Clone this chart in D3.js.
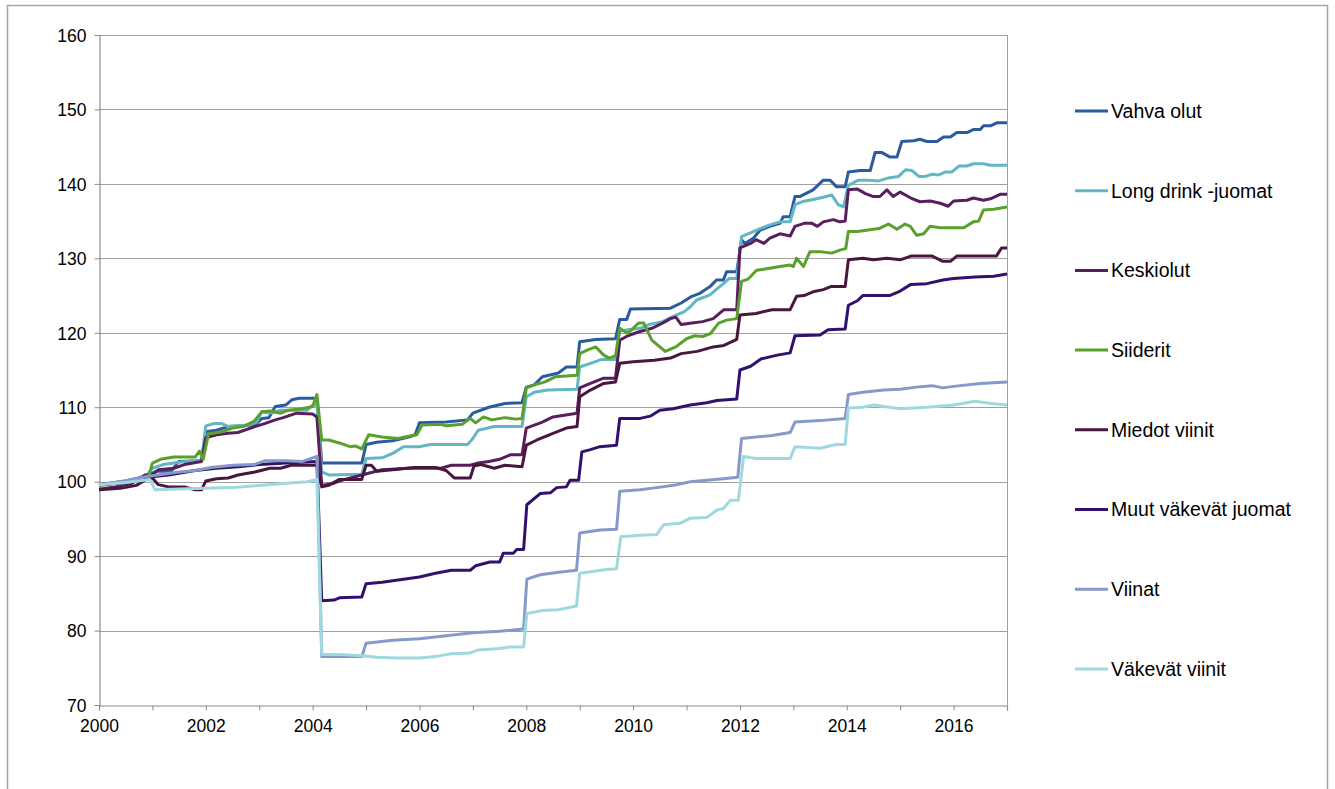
<!DOCTYPE html>
<html>
<head>
<meta charset="utf-8">
<script src="https://cdn.jsdelivr.net/npm/d3@7"></script>
<style>
  body { margin: 0; background: #fff; }
  svg { display: block; font-family: "Liberation Sans", Arial, sans-serif; }
</style>
</head>
<body>
<div id="chart"></div>
<script>
// Series names (legend order) and colours
var seriesNames = ['Vahva olut', 'Long drink -juomat', 'Keskiolut', 'Siiderit',
  'Miedot viinit', 'Muut väkevät juomat', 'Viinat', 'Väkevät viinit'];
var seriesColors = ['#2a5b9f', '#63b6c3', '#5a1d5e', '#5aa02c',
  '#48163f', '#32106e', '#8799c9', '#a0d8e0'];

// Axis ticks
var yTicks = [70, 80, 90, 100, 110, 120, 130, 140, 150, 160];
var xTickLabels = [2000, 2002, 2004, 2006, 2008, 2010, 2012, 2014, 2016];

// Price index points [year, index]
var vahvaOlut = [[2000, 99.6], [2000.5, 100.1], [2000.86, 100.7], [2001.08, 101.4], [2001.35, 101.4], [2001.49, 102.7],
  [2001.92, 102.8], [2002.0, 106.7], [2002.2, 106.9], [2002.42, 107.4], [2002.92, 107.6], [2003.05, 108.5],
  [2003.18, 108.6], [2003.3, 110.1], [2003.5, 110.3], [2003.61, 111.0], [2003.75, 111.2], [2004.08, 111.2],
  [2004.17, 102.5], [2004.92, 102.5], [2005.0, 105.0], [2005.2, 105.3], [2005.5, 105.5], [2005.8, 106.0],
  [2005.92, 106.3], [2006.0, 107.9], [2006.5, 108.0], [2006.9, 108.3], [2007.0, 109.2], [2007.3, 110.0],
  [2007.6, 110.5], [2007.92, 110.6], [2008.0, 112.7], [2008.15, 113.0], [2008.3, 114.1], [2008.6, 114.6],
  [2008.75, 115.4], [2008.95, 115.4], [2009.0, 118.8], [2009.3, 119.1], [2009.67, 119.2], [2009.75, 121.8],
  [2009.88, 121.8], [2009.95, 123.2], [2010.7, 123.3], [2010.9, 124.0], [2011.1, 124.9], [2011.25, 125.3],
  [2011.44, 126.2], [2011.56, 127.1], [2011.69, 127.1], [2011.75, 128.2], [2011.94, 128.2], [2012.03, 132.5],
  [2012.09, 132.0], [2012.25, 132.7], [2012.38, 133.8], [2012.56, 134.3], [2012.75, 134.7], [2012.81, 135.6],
  [2012.94, 135.6], [2013.03, 138.3], [2013.12, 138.3], [2013.37, 139.2], [2013.56, 140.5], [2013.69, 140.5],
  [2013.81, 139.6], [2013.97, 139.6], [2014.03, 141.6], [2014.25, 141.8], [2014.44, 141.8], [2014.53, 144.2],
  [2014.66, 144.2], [2014.81, 143.6], [2014.94, 143.6], [2015.03, 145.7], [2015.25, 145.8], [2015.37, 146.0],
  [2015.5, 145.7], [2015.69, 145.7], [2015.81, 146.3], [2015.94, 146.3], [2016.06, 146.9], [2016.25, 146.9],
  [2016.37, 147.3], [2016.5, 147.3], [2016.56, 147.8], [2016.69, 147.8], [2016.81, 148.2], [2017.0, 148.2]];

var longDrink = [[2000, 99.5], [2000.5, 100.0], [2000.86, 100.6], [2001.0, 101.8], [2001.2, 102.3], [2001.5, 102.6],
  [2001.92, 102.9], [2002.0, 107.5], [2002.15, 107.8], [2002.3, 107.8], [2002.42, 107.4], [2002.8, 107.6],
  [2002.95, 108.0], [2003.05, 109.4], [2003.2, 109.2], [2003.4, 109.6], [2003.9, 109.6], [2004.0, 110.3],
  [2004.08, 110.3], [2004.17, 101.3], [2004.3, 100.9], [2004.92, 101.0], [2005.0, 103.1], [2005.3, 103.2],
  [2005.5, 103.8], [2005.7, 104.7], [2006.0, 104.7], [2006.2, 105.0], [2006.9, 105.0], [2007.0, 105.8],
  [2007.1, 106.9], [2007.4, 107.4], [2007.92, 107.4], [2008.0, 111.4], [2008.15, 112.0], [2008.4, 112.3],
  [2008.95, 112.4], [2009.0, 115.4], [2009.2, 115.9], [2009.4, 116.4], [2009.67, 116.4], [2009.75, 120.2],
  [2009.9, 120.4], [2010.13, 120.6], [2010.3, 121.1], [2010.55, 121.5], [2010.75, 122.2], [2010.95, 122.8],
  [2011.07, 123.5], [2011.19, 124.4], [2011.44, 125.1], [2011.57, 125.9], [2011.69, 126.6], [2011.8, 127.3],
  [2011.94, 127.3], [2012.03, 132.9], [2012.25, 133.6], [2012.38, 134.0], [2012.56, 134.5], [2012.75, 134.9],
  [2012.94, 134.9], [2013.03, 137.2], [2013.16, 137.6], [2013.37, 137.9], [2013.56, 138.2], [2013.72, 138.5],
  [2013.84, 137.2], [2013.94, 136.9], [2014.03, 139.8], [2014.22, 140.5], [2014.41, 140.5], [2014.6, 140.4],
  [2014.78, 140.8], [2014.97, 141.0], [2015.1, 141.9], [2015.22, 141.8], [2015.35, 141.0], [2015.47, 141.0],
  [2015.6, 141.3], [2015.72, 141.2], [2015.85, 141.6], [2015.97, 141.6], [2016.1, 142.4], [2016.25, 142.4],
  [2016.37, 142.7], [2016.56, 142.7], [2016.69, 142.5], [2017.0, 142.5]];

var keskiolut = [[2000, 99.0], [2000.3, 99.3], [2000.6, 99.7], [2000.86, 100.9], [2001.0, 100.9], [2001.11, 101.6],
  [2001.4, 101.8], [2001.6, 102.3], [2001.92, 102.7], [2002.0, 105.9], [2002.2, 106.3], [2002.42, 106.5],
  [2002.6, 106.6], [2002.92, 107.4], [2003.1, 107.8], [2003.3, 108.3], [2003.45, 108.6], [2003.7, 109.2],
  [2004.0, 109.1], [2004.08, 108.7], [2004.17, 99.5], [2004.4, 99.8], [2004.6, 100.3], [2004.92, 100.9],
  [2005.3, 101.6], [2005.8, 101.8], [2006.4, 101.8], [2006.6, 102.2], [2006.95, 102.2], [2007.1, 102.5],
  [2007.3, 102.7], [2007.5, 103.0], [2007.7, 103.6], [2007.92, 103.6], [2008.0, 107.2], [2008.3, 108.0],
  [2008.5, 108.7], [2008.95, 109.2], [2009.0, 112.6], [2009.2, 113.2], [2009.45, 113.9], [2009.67, 113.9],
  [2009.75, 119.0], [2009.9, 119.6], [2010.1, 120.1], [2010.35, 120.6], [2010.55, 121.3], [2010.7, 121.9],
  [2010.8, 122.1], [2010.9, 121.1], [2011.1, 121.3], [2011.3, 121.5], [2011.5, 121.9], [2011.7, 123.1],
  [2011.94, 123.1], [2012.0, 131.4], [2012.2, 132.0], [2012.3, 132.5], [2012.45, 132.0], [2012.56, 132.7],
  [2012.75, 133.3], [2012.94, 133.0], [2013.03, 134.3], [2013.2, 134.7], [2013.35, 134.7], [2013.45, 134.3],
  [2013.56, 134.9], [2013.75, 135.2], [2013.87, 134.9], [2013.97, 135.0], [2014.03, 139.2], [2014.2, 139.3],
  [2014.35, 138.7], [2014.5, 138.3], [2014.62, 138.3], [2014.75, 139.2], [2014.87, 138.3], [2015.0, 138.9],
  [2015.2, 138.1], [2015.37, 137.6], [2015.56, 137.7], [2015.75, 137.4], [2015.9, 137.0], [2016.0, 137.7],
  [2016.25, 137.8], [2016.37, 138.1], [2016.56, 137.8], [2016.69, 138.0], [2016.87, 138.6], [2017.0, 138.6]];

var siiderit = [[2000, 99.5], [2000.5, 99.9], [2000.92, 100.4], [2001.0, 102.5], [2001.15, 103.0], [2001.4, 103.3],
  [2001.8, 103.3], [2001.88, 104.1], [2001.95, 103.0], [2002.05, 106.4], [2002.3, 106.7], [2002.5, 107.2],
  [2002.7, 107.4], [2002.9, 108.1], [2003.05, 109.4], [2003.2, 109.5], [2003.4, 109.2], [2003.55, 109.6],
  [2003.8, 109.8], [2004.0, 110.1], [2004.08, 111.7], [2004.17, 105.6], [2004.3, 105.6], [2004.5, 105.2],
  [2004.7, 104.7], [2004.8, 104.8], [2004.92, 104.4], [2005.05, 106.3], [2005.3, 106.0], [2005.6, 105.8],
  [2005.8, 106.1], [2005.95, 106.3], [2006.05, 107.6], [2006.4, 107.7], [2006.5, 107.5], [2006.8, 107.7],
  [2006.95, 108.5], [2007.05, 107.9], [2007.2, 108.7], [2007.35, 108.3], [2007.6, 108.6], [2007.8, 108.4],
  [2007.92, 108.5], [2008.0, 112.6], [2008.15, 113.0], [2008.35, 113.4], [2008.55, 114.1], [2008.95, 114.3],
  [2009.0, 117.2], [2009.15, 117.7], [2009.3, 118.1], [2009.45, 117.0], [2009.55, 116.6], [2009.67, 116.9],
  [2009.75, 120.6], [2009.9, 119.9], [2010.1, 121.3], [2010.2, 121.3], [2010.35, 119.0], [2010.5, 118.1],
  [2010.6, 117.5], [2010.8, 118.1], [2011.0, 119.2], [2011.15, 119.6], [2011.3, 119.5], [2011.45, 119.9],
  [2011.6, 121.3], [2011.75, 121.7], [2011.94, 121.9], [2012.03, 126.9], [2012.15, 127.2], [2012.31, 128.4],
  [2012.5, 128.6], [2012.75, 128.9], [2012.94, 129.1], [2013.0, 128.9], [2013.06, 130.0], [2013.19, 128.9],
  [2013.31, 130.9], [2013.5, 130.9], [2013.72, 130.7], [2013.87, 131.1], [2013.98, 131.3], [2014.03, 133.6],
  [2014.2, 133.6], [2014.4, 133.8], [2014.6, 134.0], [2014.78, 134.6], [2014.94, 133.9], [2015.09, 134.6],
  [2015.19, 134.3], [2015.31, 133.1], [2015.44, 133.3], [2015.56, 134.3], [2015.75, 134.1], [2016.19, 134.1],
  [2016.37, 134.9], [2016.47, 135.0], [2016.56, 136.5], [2016.75, 136.6], [2017.0, 136.9]];

var miedotViinit = [[2000, 98.9], [2000.4, 99.1], [2000.7, 99.5], [2000.9, 100.4], [2001.0, 100.5], [2001.11, 99.6],
  [2001.3, 99.3], [2001.6, 99.3], [2001.8, 98.9], [2001.92, 98.9], [2002.0, 100.1], [2002.2, 100.4],
  [2002.42, 100.5], [2002.6, 100.9], [2002.92, 101.3], [2003.2, 101.8], [2003.4, 101.8], [2003.6, 102.2],
  [2004.08, 102.2], [2004.17, 99.3], [2004.3, 99.5], [2004.5, 100.3], [2004.92, 100.3], [2005.0, 102.2],
  [2005.1, 102.2], [2005.2, 101.4], [2005.5, 101.6], [2005.9, 101.9], [2006.3, 101.9], [2006.5, 101.5],
  [2006.65, 100.5], [2006.95, 100.5], [2007.02, 102.1], [2007.15, 102.3], [2007.4, 101.8], [2007.6, 102.2],
  [2007.92, 102.0], [2008.0, 104.9], [2008.2, 105.6], [2008.5, 106.5], [2008.75, 107.2], [2008.95, 107.4],
  [2009.0, 111.4], [2009.2, 112.3], [2009.45, 113.2], [2009.67, 113.4], [2009.75, 115.9], [2010.0, 116.1],
  [2010.4, 116.3], [2010.7, 116.6], [2010.9, 117.2], [2011.2, 117.5], [2011.5, 118.1], [2011.7, 118.3],
  [2011.94, 119.1], [2012.0, 122.4], [2012.3, 122.6], [2012.6, 123.1], [2012.94, 123.1], [2013.06, 124.9],
  [2013.2, 125.0], [2013.37, 125.5], [2013.56, 125.8], [2013.7, 126.2], [2013.97, 126.2], [2014.03, 129.8],
  [2014.3, 130.0], [2014.5, 129.8], [2014.75, 130.0], [2015.0, 129.8], [2015.2, 130.3], [2015.6, 130.3],
  [2015.8, 129.6], [2015.94, 129.6], [2016.06, 130.3], [2016.8, 130.3], [2016.9, 131.4], [2017.0, 131.4]];

var muutVakevat = [[2000, 99.6], [2000.6, 100.0], [2000.9, 100.6], [2001.3, 100.9], [2001.8, 101.5], [2002.2, 101.8],
  [2002.6, 102.0], [2003.0, 102.3], [2003.5, 102.5], [2004.08, 102.7], [2004.17, 84.0], [2004.4, 84.1],
  [2004.5, 84.4], [2004.92, 84.5], [2005.0, 86.3], [2005.3, 86.5], [2005.5, 86.7], [2005.8, 87.0],
  [2006.0, 87.2], [2006.3, 87.7], [2006.6, 88.1], [2006.95, 88.1], [2007.05, 88.7], [2007.32, 89.2],
  [2007.5, 89.2], [2007.57, 90.4], [2007.76, 90.4], [2007.82, 90.9], [2007.95, 90.9], [2008.01, 96.9],
  [2008.26, 98.4], [2008.45, 98.5], [2008.57, 99.2], [2008.75, 99.3], [2008.82, 100.2], [2008.98, 100.2],
  [2009.04, 104.0], [2009.2, 104.3], [2009.38, 104.7], [2009.69, 104.9], [2009.75, 108.5], [2010.13, 108.5],
  [2010.32, 108.8], [2010.5, 109.6], [2010.75, 109.8], [2011.07, 110.3], [2011.38, 110.6], [2011.57, 110.9],
  [2011.94, 111.1], [2012.0, 115.0], [2012.2, 115.5], [2012.4, 116.5], [2012.7, 117.0], [2012.94, 117.3],
  [2013.03, 119.6], [2013.5, 119.7], [2013.65, 120.4], [2013.97, 120.5], [2014.03, 123.7], [2014.2, 124.3],
  [2014.3, 125.0], [2014.8, 125.0], [2015.0, 125.6], [2015.2, 126.5], [2015.5, 126.6], [2015.8, 127.1],
  [2016.0, 127.3], [2016.4, 127.5], [2016.75, 127.6], [2017.0, 127.9]];

var viinat = [[2000, 99.6], [2000.4, 100.0], [2000.9, 100.7], [2001.2, 101.0], [2001.5, 101.3], [2001.8, 101.5],
  [2002.1, 101.9], [2002.5, 102.2], [2002.9, 102.3], [2003.1, 102.8], [2003.5, 102.8], [2003.8, 102.7],
  [2004.08, 103.4], [2004.17, 76.5], [2004.92, 76.5], [2005.0, 78.3], [2005.5, 78.7], [2006.0, 78.9],
  [2006.5, 79.3], [2007.0, 79.7], [2007.5, 79.9], [2007.95, 80.2], [2008.01, 86.9], [2008.26, 87.5],
  [2008.57, 87.8], [2008.94, 88.1], [2009.0, 93.1], [2009.38, 93.5], [2009.69, 93.6], [2009.75, 98.7],
  [2010.13, 98.9], [2010.44, 99.2], [2010.82, 99.6], [2011.07, 100.0], [2011.38, 100.2], [2011.69, 100.4],
  [2011.96, 100.6], [2012.03, 105.8], [2012.3, 106.0], [2012.6, 106.2], [2012.94, 106.6], [2013.03, 108.0],
  [2013.5, 108.2], [2013.97, 108.5], [2014.03, 111.7], [2014.3, 112.0], [2014.7, 112.3], [2015.0, 112.4],
  [2015.3, 112.7], [2015.6, 112.9], [2015.8, 112.6], [2016.0, 112.8], [2016.5, 113.2], [2017.0, 113.4]];

var vakevatViinit = [[2000, 99.6], [2000.5, 99.9], [2000.95, 100.3], [2001.05, 98.9], [2001.5, 99.0], [2002.0, 99.1],
  [2002.5, 99.2], [2003.0, 99.5], [2003.5, 99.8], [2003.9, 100.0], [2004.08, 100.3], [2004.17, 76.8],
  [2004.5, 76.8], [2004.92, 76.6], [2005.2, 76.4], [2005.6, 76.3], [2006.0, 76.3], [2006.3, 76.5],
  [2006.6, 76.9], [2006.95, 77.0], [2007.1, 77.4], [2007.5, 77.6], [2007.7, 77.8], [2007.95, 77.8],
  [2008.01, 82.3], [2008.3, 82.7], [2008.6, 82.8], [2008.94, 83.3], [2009.0, 87.7], [2009.2, 87.9],
  [2009.5, 88.2], [2009.69, 88.3], [2009.77, 92.6], [2010.13, 92.8], [2010.44, 92.9], [2010.57, 94.2],
  [2010.88, 94.4], [2011.07, 95.1], [2011.38, 95.2], [2011.57, 96.2], [2011.69, 96.4], [2011.82, 97.5],
  [2011.97, 97.5], [2012.07, 103.4], [2012.3, 103.1], [2012.94, 103.1], [2013.03, 104.7], [2013.5, 104.5],
  [2013.8, 105.0], [2013.97, 105.0], [2014.03, 109.9], [2014.3, 110.0], [2014.5, 110.3], [2015.0, 109.8],
  [2015.5, 110.0], [2016.0, 110.3], [2016.4, 110.8], [2016.7, 110.5], [2017.0, 110.3]];

var allSeries = [vahvaOlut, longDrink, keskiolut, siiderit, miedotViinit, muutVakevat, viinat, vakevatViinit];

// Sizing
var width = 1335;
var height = 789;
var plot = { left: 99, top: 35, right: 1007, bottom: 705 };

var svg = d3.select('#chart')
  .append('svg')
  .attr('width', width)
  .attr('height', height);

// outer chart frame (bottom edge runs off the picture)
svg.append('rect')
  .attr('x', 7.5).attr('y', 5.5)
  .attr('width', 1320).attr('height', 800)
  .attr('fill', 'none')
  .attr('stroke', '#a6a6a6')
  .attr('stroke-width', 1.5);

var x = d3.scaleLinear().domain([2000, 2017]).range([plot.left, plot.right]);
var y = d3.scaleLinear().domain([70, 160]).range([plot.bottom, plot.top]);

// horizontal gridlines
svg.append('g')
  .selectAll('line')
  .data(yTicks.slice(1))
  .enter().append('line')
  .attr('x1', plot.left).attr('x2', plot.right)
  .attr('y1', function (d) { return Math.round(y(d)) + 0.5; })
  .attr('y2', function (d) { return Math.round(y(d)) + 0.5; })
  .attr('stroke', '#a0a0a0')
  .attr('stroke-width', 1);

// right border of plot area
svg.append('line')
  .attr('x1', plot.right + 0.5).attr('x2', plot.right + 0.5)
  .attr('y1', plot.top).attr('y2', plot.bottom)
  .attr('stroke', '#a0a0a0');

// y axis
var yAxis = svg.append('g')
  .attr('transform', 'translate(' + (plot.left + 0.5) + ',0)')
  .call(d3.axisLeft(y).tickValues(yTicks).tickSize(5).tickPadding(8));

// x axis: tick every year, label every second year
var xAxis = svg.append('g')
  .attr('transform', 'translate(0,' + (plot.bottom + 0.5) + ')')
  .call(d3.axisBottom(x)
    .tickValues(d3.range(2000, 2018))
    .tickSize(5)
    .tickPadding(8)
    .tickFormat(function (d) { return xTickLabels.indexOf(d) >= 0 ? d : ''; }));

[yAxis, xAxis].forEach(function (ax) {
  ax.select('.domain').attr('stroke', '#8c8c8c').attr('stroke-width', 1.2);
  ax.selectAll('.tick line').attr('stroke', '#8c8c8c');
  ax.selectAll('.tick text')
    .attr('fill', '#000')
    .style('font-size', '17.5px')
    .style('font-family', '"Liberation Sans", Arial, sans-serif');
});
yAxis.selectAll('.tick text').attr('dy', '0.36em');
xAxis.selectAll('.tick text').attr('dy', '0.75em');

// series lines
var line = d3.line()
  .x(function (d) { return x(d[0]); })
  .y(function (d) { return y(d[1]); });

svg.append('g')
  .selectAll('path')
  .data(allSeries)
  .enter().append('path')
  .attr('d', line)
  .attr('fill', 'none')
  .attr('stroke', function (d, i) { return seriesColors[i]; })
  .attr('stroke-width', 3)
  .attr('stroke-linejoin', 'round');

// legend
var legend = svg.append('g')
  .selectAll('g')
  .data(seriesNames)
  .enter().append('g')
  .attr('transform', function (d, i) { return 'translate(1075,' + (111 + i * 79.7) + ')'; });

legend.append('line')
  .attr('x1', 0).attr('x2', 33)
  .attr('stroke', function (d, i) { return seriesColors[i]; })
  .attr('stroke-width', 3);

legend.append('text')
  .attr('x', 36)
  .attr('dy', '0.35em')
  .style('font-size', '19.5px')
  .attr('fill', '#000')
  .text(function (d) { return d; });
</script>
</body>
</html>
